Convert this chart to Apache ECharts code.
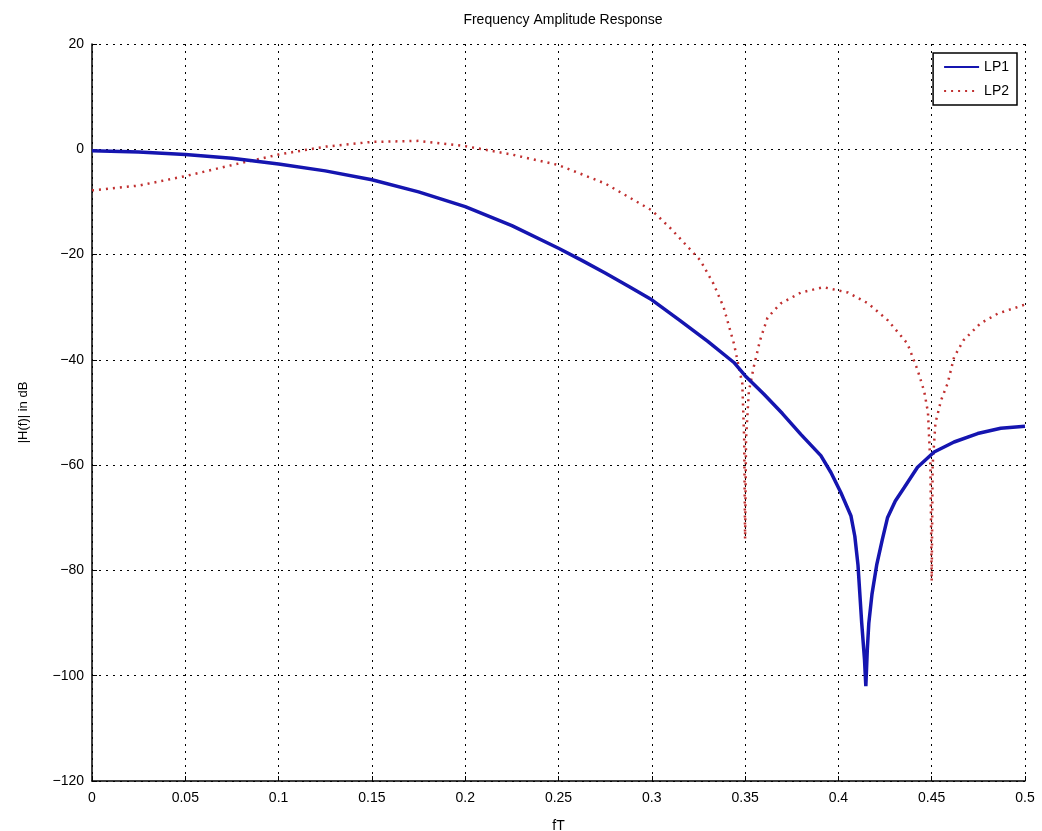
<!DOCTYPE html>
<html lang="en">
<head>
    <meta charset="UTF-8">
    <title>Frequency Amplitude Response</title>
    <script src="https://cdn.jsdelivr.net/npm/echarts@6.0.0/dist/echarts.min.js"></script>
    <style>
        html, body { margin: 0; padding: 0; background: #fff; }
        #chart { width: 1042px; height: 831px; }
    </style>
</head>
<body>
    <div id="chart"></div>
    <script>
        // LP1 (solid blue) - normalised frequency fT and magnitude in dB
        const lp1Freq = [0, 0.025, 0.05, 0.075, 0.1, 0.125, 0.15, 0.175, 0.2, 0.225, 0.25, 0.2625, 0.275, 0.2875, 0.3, 0.315, 0.33, 0.344, 0.35, 0.36, 0.37, 0.38, 0.3906, 0.396, 0.4013, 0.4067, 0.4088, 0.4105, 0.4125, 0.414, 0.4147, 0.4155, 0.4163, 0.418, 0.4205, 0.4235, 0.4263, 0.4305, 0.4352, 0.4424, 0.4513, 0.462, 0.4746, 0.487, 0.5];
        const lp1Db = [-0.3, -0.5, -1.0, -1.7, -2.8, -4.1, -5.8, -8.1, -10.9, -14.5, -18.8, -21.1, -23.5, -26.0, -28.6, -32.5, -36.5, -40.5, -43, -46.5, -50.2, -54.2, -58.2, -61.4, -65.2, -69.6, -73.5, -79, -90, -97, -102, -95, -90, -84.5, -79, -74.2, -70.0, -66.8, -64.3, -60.4, -57.5, -55.6, -54.0, -53.0, -52.6];

        // LP2 (dotted red)
        const lp2Freq = [0, 0.025, 0.05, 0.075, 0.1, 0.125, 0.15, 0.175, 0.2, 0.225, 0.25, 0.275, 0.3, 0.31, 0.32, 0.326, 0.333, 0.3385, 0.344, 0.3485, 0.3495, 0.35, 0.3505, 0.352, 0.3546, 0.358, 0.362, 0.369, 0.38, 0.392, 0.405, 0.416, 0.4265, 0.437, 0.4425, 0.446, 0.448, 0.4493, 0.45, 0.4505, 0.452, 0.455, 0.4585, 0.462, 0.467, 0.476, 0.4855, 0.5];
        const lp2Db = [-7.8, -6.9, -5.1, -3.0, -1.0, 0.5, 1.4, 1.6, 0.6, -1.0, -3.0, -6.5, -11.6, -15, -18.8, -21.1, -25.5, -30, -36.9, -44.5, -55, -74, -55, -46, -41.4, -36.3, -32, -29.3, -27.2, -26.2, -27.2, -29.3, -32.5, -36.9, -42, -46, -50, -60, -82, -60, -52, -47.7, -44.5, -39.5, -36.3, -33.1, -31.2, -29.5];

        const xTicks = { min: 0, max: 0.5, step: 0.05 };
        const yTicks = { min: -120, max: 20, step: 20 };

        const pairs = (xs, ys) => xs.map((x, i) => [x, ys[i]]);
        const font = "Liberation Sans, Arial, sans-serif";
        const gridLine = { color: "#000", width: 1, type: [2, 5] };

        const chart = echarts.init(document.getElementById("chart"));
        chart.setOption({
            animation: false,
            title: {
                text: "Frequency Amplitude Response",
                left: 558, top: 8, textAlign: "center",
                textStyle: { fontFamily: font, fontSize: 14, fontWeight: "normal", color: "#000" }
            },
            legend: {
                right: 25, top: 53,
                orient: "vertical",
                backgroundColor: "#fff",
                borderColor: "#000", borderWidth: 1.5, borderRadius: 0,
                padding: [7, 8, 7, 10],
                itemWidth: 35, itemHeight: 12, itemGap: 10,
                itemStyle: { opacity: 0 },
                textStyle: { fontFamily: font, fontSize: 14, color: "#000" },
                data: ["LP1", "LP2"]
            },
            grid: { left: 92, right: 17, top: 44, bottom: 50, containLabel: false, outerBoundsMode: "none" },
            xAxis: {
                type: "value",
                min: xTicks.min, max: xTicks.max, interval: xTicks.step,
                name: "fT", nameLocation: "middle", nameGap: 38,
                nameTextStyle: { fontFamily: font, fontSize: 14, color: "#000" },
                axisLine: { onZero: false, lineStyle: { color: "#000", width: 1.5 } },
                axisTick: { inside: true, length: 5, lineStyle: { color: "#000" } },
                axisLabel: {
                    fontFamily: font, fontSize: 14, color: "#000", margin: 10,
                    formatter: v => String(+v.toFixed(2))
                },
                splitLine: { show: true, lineStyle: gridLine }
            },
            yAxis: {
                type: "value",
                min: yTicks.min, max: yTicks.max, interval: yTicks.step,
                name: "|H(f)| in dB", nameLocation: "middle", nameGap: 62,
                nameTextStyle: { fontFamily: font, fontSize: 13, color: "#000" },
                axisLine: { show: true, onZero: false, lineStyle: { color: "#000", width: 1.5 } },
                axisTick: { show: true, inside: true, length: 5, lineStyle: { color: "#000" } },
                axisLabel: {
                    fontFamily: font, fontSize: 14, color: "#000", margin: 8,
                    formatter: v => String(v).replace("-", "\u2212")
                },
                splitLine: { show: true, lineStyle: gridLine }
            },
            series: [
                {
                    name: "LP1", type: "line", showSymbol: false, symbol: "none",
                    data: pairs(lp1Freq, lp1Db),
                    itemStyle: { color: "#1515b0" },
                    lineStyle: { color: "#1515b0", width: 3.5 },
                    z: 3
                },
                {
                    name: "LP2", type: "line", showSymbol: false, symbol: "none",
                    data: pairs(lp2Freq, lp2Db),
                    itemStyle: { color: "#c03030" },
                    lineStyle: { color: "#c03030", width: 2.5, type: [2, 5] },
                    z: 2
                }
            ]
        });
    </script>
</body>
</html>
